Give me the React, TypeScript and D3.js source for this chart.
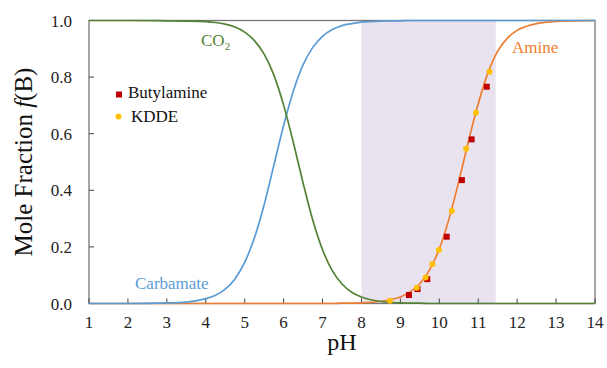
import React from "react";
import * as d3 from "d3";

// Curve samples: pH and fraction
const curvePH = [
  1, 2, 3, 3.5, 4, 4.25, 4.5, 4.75, 5, 5.25, 5.5, 5.75, 6, 6.25, 6.5, 6.75, 7, 7.25,
  7.5, 7.75, 8, 8.5, 9, 9.25, 9.5, 9.75, 10, 10.25, 10.5, 10.75, 11, 11.25, 11.5,
  11.75, 12, 12.5, 13, 13.5, 14,
];
const co2Values = [
  1, 1, 0.999, 0.998, 0.996, 0.993, 0.987, 0.977, 0.959, 0.929, 0.881, 0.807, 0.701,
  0.569, 0.426, 0.294, 0.19, 0.116, 0.069, 0.04, 0.023, 0.007, 0.002, 0.001, 0.001, 0,
  0, 0, 0, 0, 0, 0, 0, 0, 0, 0, 0, 0, 0,
];
const carbamateValues = [
  0, 0, 0.002, 0.005, 0.017, 0.029, 0.051, 0.087, 0.145, 0.232, 0.349, 0.489, 0.629,
  0.751, 0.843, 0.905, 0.944, 0.968, 0.982, 0.989, 0.994, 0.998, 0.999, 1, 1, 1, 1, 1,
  1, 1, 1, 1, 1, 1, 1, 1, 1, 1, 1,
];
const amineValues = [
  0, 0, 0, 0, 0, 0, 0, 0, 0, 0, 0, 0, 0, 0, 0, 0, 0, 0, 0.001, 0.001, 0.002, 0.008,
  0.023, 0.041, 0.07, 0.119, 0.193, 0.299, 0.431, 0.574, 0.706, 0.815, 0.892, 0.938,
  0.965, 0.989, 0.997, 0.999, 1,
];

// Measured points
const butylaminePH = [9.22, 9.44, 9.69, 10.19, 10.58, 10.83, 11.22];
const butylamineF = [0.03, 0.051, 0.086, 0.236, 0.436, 0.58, 0.766];
const kddePH = [8.73, 9.42, 9.65, 9.82, 9.99, 10.32, 10.69, 10.94, 11.29];
const kddeF = [0.01, 0.056, 0.092, 0.139, 0.189, 0.327, 0.547, 0.674, 0.819];

const xTicks = [1, 2, 3, 4, 5, 6, 7, 8, 9, 10, 11, 12, 13, 14];
const yTicks = [0, 0.2, 0.4, 0.6, 0.8, 1.0];
const shadeRange = [8, 11.45];

const W = 607;
const H = 368;
const left = 89;
const right = 595;
const top = 20.5;
const bottom = 303.5;

const font = "'Liberation Serif', 'Times New Roman', serif";

export default function App() {
  const x = d3.scaleLinear().domain([1, 14]).range([left, right]);
  const y = d3.scaleLinear().domain([0, 1]).range([bottom, top]);
  const line = d3
    .line<number>()
    .x((_, i) => x(curvePH[i]))
    .y((d) => y(d))
    .curve(d3.curveMonotoneX);

  const frame = "#777";

  return (
    <svg
      width={W}
      height={H}
      style={{ position: "absolute", left: 0, top: 0, background: "#fff" }}
      fontFamily={font}
    >
      <rect
        x={x(shadeRange[0])}
        y={top}
        width={x(shadeRange[1]) - x(shadeRange[0])}
        height={bottom - top}
        fill="#E9E3EF"
      />
      <rect
        x={left}
        y={top}
        width={right - left}
        height={bottom - top}
        fill="none"
        stroke={frame}
        strokeWidth={1.3}
      />
      {xTicks.map((t) => (
        <g key={"x" + t}>
          <line x1={x(t)} x2={x(t)} y1={bottom} y2={bottom - 5} stroke="#444" strokeWidth={1} />
          <text x={x(t)} y={328} textAnchor="middle" fontSize={17} fill="#222">
            {t}
          </text>
        </g>
      ))}
      {yTicks.map((t) => (
        <g key={"y" + t}>
          <line x1={left} x2={left + 5} y1={y(t)} y2={y(t)} stroke="#444" strokeWidth={1} />
          <text x={72} y={y(t) + 6} textAnchor="end" fontSize={17} fill="#222">
            {t.toFixed(1)}
          </text>
        </g>
      ))}

      <path d={line(amineValues) ?? ""} fill="none" stroke="#ED7D31" strokeWidth={1.7} />
      <path d={line(carbamateValues) ?? ""} fill="none" stroke="#5B9BD5" strokeWidth={1.7} />
      <path d={line(co2Values) ?? ""} fill="none" stroke="#548235" strokeWidth={1.7} />

      {butylaminePH.map((p, i) => (
        <rect
          key={"b" + i}
          x={x(p) - 3}
          y={y(butylamineF[i]) - 3}
          width={6}
          height={6}
          fill="#C00000"
        />
      ))}
      {kddePH.map((p, i) => (
        <circle key={"k" + i} cx={x(p)} cy={y(kddeF[i])} r={3} fill="#FFC000" />
      ))}

      {/* curve labels */}
      <text x={201} y={46} fontSize={17} fill="#548235">
        CO<tspan fontSize={11} dy={4}>2</tspan>
      </text>
      <text x={512} y={53} fontSize={17} fill="#ED7D31">
        Amine
      </text>
      <text x={135} y={289} fontSize={17} fill="#5B9BD5">
        Carbamate
      </text>

      {/* legend */}
      <rect x={116} y={91.5} width={6} height={6} fill="#C00000" />
      <text x={128} y={98} fontSize={17} fill="#111">
        Butylamine
      </text>
      <circle cx={118.5} cy={116.5} r={3} fill="#FFC000" />
      <text x={131} y={122} fontSize={17} fill="#111">
        KDDE
      </text>

      {/* axis titles */}
      <text x={(left + right) / 2} y={350} textAnchor="middle" fontSize={24} fill="#111">
        pH
      </text>
      <text
        transform={`translate(32, ${(top + bottom) / 2}) rotate(-90)`}
        textAnchor="middle"
        fontSize={25}
        fill="#111"
      >
        Mole Fraction <tspan fontStyle="italic">f</tspan>(B)
      </text>
    </svg>
  );
}
